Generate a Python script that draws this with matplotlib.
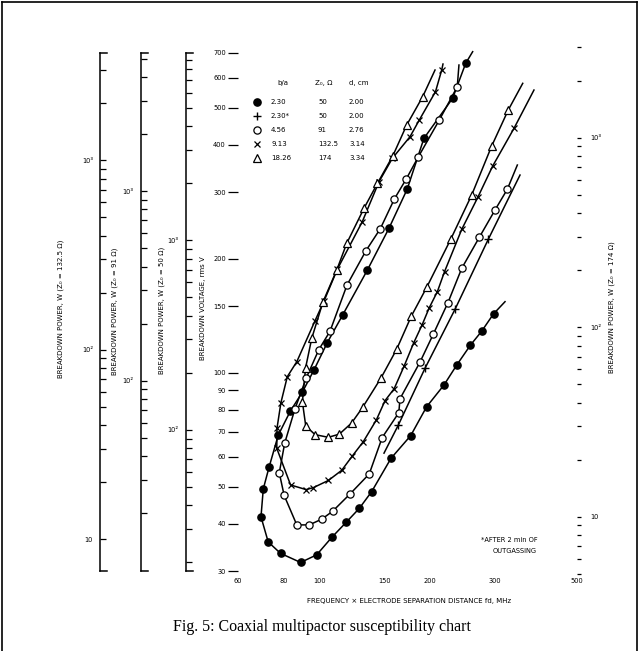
import matplotlib
matplotlib.use("Agg")
import matplotlib.pyplot as plt
from matplotlib.lines import Line2D
from matplotlib.ticker import NullLocator

# ---- data: f*d (MHz cm) vs rms breakdown voltage (V)
# b/a = 2.30 (filled circles): steep branch, minimum, right branch
dot_f = [249.4, 229.8, 192.1, 173.1, 154.4, 134.9, 115.6, 105.0, 96.6, 89.8, 83.4,
         77.3, 73.0, 70.4, 69.4, 72.6, 78.4, 88.9, 98.3, 108.0, 118.1, 128.3, 138.6,
         156.4, 176.9, 195.4, 217.8, 236.2, 257.0, 275.3, 296.8]
dot_v = [655.7, 530.1, 415.7, 305.5, 240.7, 186.7, 142.1, 120.1, 101.7, 88.8, 79.3,
         68.5, 56.4, 49.4, 41.7, 35.8, 33.4, 31.6, 33.1, 36.8, 40.3, 43.9, 48.6,
         59.5, 68.3, 81.4, 92.9, 105.1, 118.4, 128.6, 143.1]
dot_ends = [(260.5, 703.8), (318.9, 154.1)]

# b/a = 2.30* (plus), after outgassing
plus_f = [163.7, 193.4, 233.3, 287.2]
plus_v = [72.8, 102.8, 147.1, 225.1]
plus_ends = [(149.7, 61.4), (350.2, 332.6)]

# b/a = 4.56 (open circles)
circ_f = [236.6, 211.5, 185.4, 172.1, 159.8, 146.3, 133.8, 118.8, 106.8, 99.6, 92.1,
          85.8, 80.5, 77.8, 80.2, 86.8, 93.8, 101.4, 108.5, 121.3, 136.5, 148.0,
          164.2, 165.4, 187.5, 203.7, 223.3, 243.3, 271.6, 299.5, 323.4]
circ_v = [568.8, 464.6, 371.1, 325.0, 287.9, 240.1, 210.2, 170.5, 128.7, 115.1, 97.0,
          80.3, 65.3, 54.5, 47.5, 39.7, 39.7, 41.1, 43.1, 48.0, 54.1, 67.5,
          78.5, 85.4, 106.8, 126.5, 153.3, 188.7, 227.9, 268.9, 304.9]
circ_ends = [(239.1, 649.0), (344.4, 353.5)]

# b/a = 9.13 (crosses)
cross_f = [214.7, 206.5, 186.6, 176.1, 157.7, 145.1, 130.7, 111.8, 102.9, 97.3, 86.8,
           81.8, 78.6, 76.7, 76.6, 83.5, 92.0, 96.3, 105.7, 114.9, 122.9, 131.5,
           142.7, 150.7, 159.5, 169.6, 180.3, 190.1, 198.6, 208.9, 218.5, 243.3,
           269.0, 295.2, 337.3]
cross_v = [629.6, 551.8, 464.6, 419.8, 368.2, 319.4, 250.5, 187.6, 154.7, 137.3, 107.0,
           97.7, 83.4, 71.4, 63.2, 50.6, 49.2, 49.8, 52.0, 55.3, 60.4, 65.8,
           75.1, 84.5, 90.8, 104.0, 120.1, 134.1, 148.5, 163.7, 184.9, 239.1,
           290.5, 351.3, 441.8]
cross_ends = [(216.4, 652.9), (382.1, 557.5)]

# b/a = 18.26 (triangles)
tri_f = [190.6, 172.5, 158.1, 143.7, 132.1, 118.6, 111.4, 102.2, 95.3, 91.7, 89.9,
         91.8, 97.3, 105.7, 113.2, 122.2, 131.0, 146.9, 162.0, 177.6, 195.4, 227.1,
         258.9, 293.4, 325.4]
tri_v = [535.3, 450.7, 373.4, 316.3, 271.8, 219.7, 186.7, 153.8, 123.3, 103.1, 83.8,
         72.4, 68.7, 67.6, 68.9, 73.7, 81.1, 96.9, 115.4, 141.2, 168.0, 225.1,
         294.6, 396.8, 493.8]
tri_ends = [(205.9, 629.6), (356.2, 580.7)]

legend_ba = ["2.30", "2.30*", "4.56", "9.13", "18.26"]
legend_z = ["50", "50", "91", "132.5", "174"]
legend_d = ["2.00", "2.00", "2.76", "3.14", "3.34"]

x_ticks = [60, 80, 100, 150, 200, 300, 500]
y_ticks = [30, 40, 50, 60, 70, 80, 90, 100, 150, 200, 300, 400, 500, 600, 700]
power_z = [132.5, 91, 50]

W, H = 638, 651
V_LO, V_HI = 29.3, 725
AX_L, AX_R, AX_T, AX_B = 237.7, 577, 46.8, 574.9


def fx(px):
    return px / W


def fy(py):
    return 1 - py / H


plt.rcParams['font.family'] = ['DejaVu Sans']
fig = plt.figure(figsize=(W / 100, H / 100), dpi=100)
ax = fig.add_axes([fx(AX_L), fy(AX_B), (AX_R - AX_L) / W, (AX_B - AX_T) / H])
ax.set_xscale('log'); ax.set_yscale('log')
ax.set_xlim(60, 500); ax.set_ylim(V_LO, V_HI)
ax.patch.set_visible(False)
for s in ax.spines.values():
    s.set_visible(False)
ax.xaxis.set_minor_locator(NullLocator()); ax.yaxis.set_minor_locator(NullLocator())
ax.set_xticks(x_ticks); ax.set_xticklabels([str(t) for t in x_ticks])
ax.set_yticks(y_ticks); ax.set_yticklabels([str(t) for t in y_ticks])
ax.tick_params(axis='x', length=0, pad=2.5, labelsize=4.8)
ax.tick_params(axis='y', direction='out', length=7, width=0.9, pad=1.5, labelsize=4.8)

series = [
    (dot_f, dot_v, dot_ends, dict(marker='o', ms=5.2, mfc='k', mec='k')),
    (plus_f, plus_v, plus_ends, dict(marker='+', ms=6, mec='k', mew=1.0)),
    (circ_f, circ_v, circ_ends, dict(marker='o', ms=5.2, mfc='white', mec='k', mew=0.9)),
    (cross_f, cross_v, cross_ends, dict(marker='x', ms=4.6, mec='k', mew=0.9)),
    (tri_f, tri_v, tri_ends, dict(marker='^', ms=5.4, mfc='white', mec='k', mew=0.9)),
]
for f, v, ends, mk in series:
    lf = [ends[0][0]] + f + [ends[1][0]]
    lv = [ends[0][1]] + v + [ends[1][1]]
    ax.plot(lf, lv, color='k', lw=1.1, zorder=2, clip_on=False)
    ax.plot(f, v, ls='none', zorder=3, clip_on=False, **mk)


def decade_label(p):
    return {10: "10", 100: "10\u00b2", 1000: "10\u00b3"}.get(p, "")


def power_ticks(lo, hi):
    out = []
    for dec in [1, 10, 100, 1000]:
        for m in range(1, 10):
            p = m * dec
            if lo <= p <= hi:
                out.append(p)
    return out


# three extra power scales on the left
for x_px, z in zip([100, 140.5, 185.7], power_z):
    a = fig.add_axes([fx(x_px), fy(AX_B), 7 / W, (AX_B - AX_T) / H])
    a.set_yscale('log'); a.set_xlim(0, 1)
    a.set_ylim(V_LO ** 2 / z, V_HI ** 2 / z)
    a.patch.set_visible(False)
    for k, s in a.spines.items():
        s.set_visible(k == 'left')
    p_lo, p_hi = 900 / z, 490000 / z
    a.spines['left'].set_bounds(p_lo, p_hi)
    a.spines['left'].set_linewidth(1.1)
    a.plot([0, 1], [p_lo, p_lo], color='k', lw=1.1, clip_on=False)
    a.plot([0, 1], [p_hi, p_hi], color='k', lw=1.1, clip_on=False)
    ticks = power_ticks(max(10, p_lo * 1.05), p_hi * 0.98)
    a.yaxis.set_minor_locator(NullLocator())
    a.set_yticks(ticks); a.set_yticklabels([decade_label(t) for t in ticks])
    a.set_ylim(V_LO ** 2 / z, V_HI ** 2 / z)
    a.set_xticks([])
    a.tick_params(axis='y', direction='in', length=4, width=0.9, pad=5, labelsize=4.8)

# power scale on the right for Z0 = 174 ohm
z = 174
a = fig.add_axes([fx(576), fy(AX_B), 5 / W, (AX_B - AX_T) / H])
a.set_yscale('log'); a.set_xlim(0, 1)
a.patch.set_visible(False)
for s in a.spines.values():
    s.set_visible(False)
ticks = power_ticks(4.9, V_HI ** 2 / z)
a.yaxis.set_minor_locator(NullLocator())
a.set_yticks(ticks); a.set_yticklabels([decade_label(t) for t in ticks])
a.set_ylim(V_LO ** 2 / z, V_HI ** 2 / z)
a.set_xticks([])
a.yaxis.tick_right()
a.tick_params(axis='y', direction='in', length=3, width=0.9, pad=7, labelsize=4.8)

# axis titles
lab = dict(rotation=90, ha='center', va='center', fontsize=5)
fig.text(fx(60.5), fy(309), "BREAKDOWN POWER, W (Z\u2080 = 132.5 \u03a9)", **lab)
fig.text(fx(115), fy(311), "BREAKDOWN POWER, W (Z\u2080 = 91 \u03a9)", **lab)
fig.text(fx(161.5), fy(310), "BREAKDOWN POWER, W (Z\u2080 = 50 \u03a9)", **lab)
fig.text(fx(203), fy(308), "BREAKDOWN VOLTAGE, rms V", **lab)
fig.text(fx(611.5), fy(307), "BREAKDOWN POWER, W (Z\u2080 = 174 \u03a9)", **lab)
fig.text(fx(409), fy(601.5), "FREQUENCY \u00d7 ELECTRODE SEPARATION DISTANCE fd, MHz",
         ha='center', va='center', fontsize=5)

# legend table
fig.text(fx(277), fy(83.5), "b/a", ha='left', va='center', fontsize=5)
fig.text(fx(315), fy(83.5), "Z\u2080, \u03a9", ha='left', va='center', fontsize=5)
fig.text(fx(349), fy(83.5), "d, cm", ha='left', va='center', fontsize=5)
row_y = [101.7, 116, 130, 144, 158]
for (f, v, ends, mk), ry, ba, zz, dd in zip(series, row_y, legend_ba, legend_z, legend_d):
    fig.add_artist(Line2D([fx(256.7)], [fy(ry)], ls='none', transform=fig.transFigure, **mk))
    fig.text(fx(271), fy(ry), ba, ha='left', va='center', fontsize=5)
    fig.text(fx(318), fy(ry), zz, ha='left', va='center', fontsize=5)
    fig.text(fx(349), fy(ry), dd, ha='left', va='center', fontsize=5)

fig.text(fx(538), fy(539.5), "*AFTER 2 min OF", ha='right', va='center', fontsize=4.8)
fig.text(fx(537), fy(551), "OUTGASSING", ha='right', va='center', fontsize=4.8)

fig.text(fx(322), fy(627), "Fig. 5: Coaxial multipactor susceptibility chart",
         ha='center', va='center', fontsize=11.5, family='Liberation Serif')

# page frame
for xs, ys in [([1.5, 1.5], [651, 1.5]), ([1.5, 636.5], [1.5, 1.5]), ([636.5, 636.5], [1.5, 651])]:
    fig.add_artist(Line2D([fx(x) for x in xs], [fy(y) for y in ys], color='k', lw=1.2,
                          transform=fig.transFigure))

fig.savefig("out.png", dpi=100)
